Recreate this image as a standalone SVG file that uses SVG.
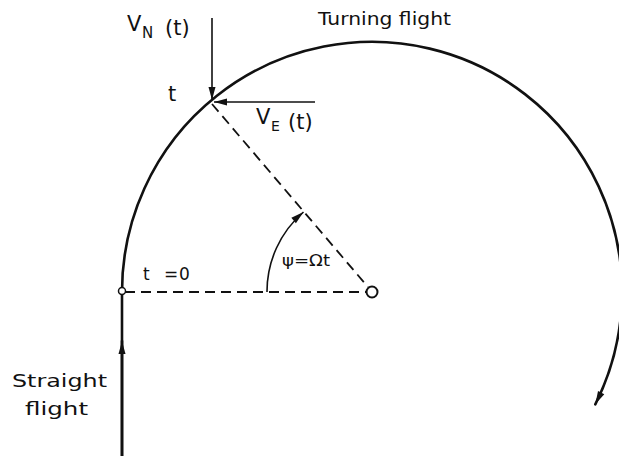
<svg xmlns="http://www.w3.org/2000/svg" width="619" height="456" viewBox="0 0 619 456">
<style>
.txt{font-family:"DejaVu Sans","Liberation Sans",sans-serif;fill:#111;}
.thick{fill:none;stroke:#111;stroke-width:2.6;stroke-linecap:round;}
.thin{fill:none;stroke:#111;stroke-width:1.6;}
.dash{fill:none;stroke:#111;stroke-width:1.8;stroke-dasharray:10 6;}
</style>
<defs>
<marker id="ah" markerWidth="14" markerHeight="8" viewBox="-14 -4 14 8" refX="0" refY="0" orient="auto" markerUnits="userSpaceOnUse">
<path d="M0,0 L-13,-3.5 L-13,3.5 Z" fill="#111"/>
</marker>
</defs>
<rect width="619" height="456" fill="#fff"/>
<g id="connectors">
<path class="thick" d="M122 456 L122 292"/>
<path class="thick" d="M122 456 L122 341" marker-end="url(#ah)"/>
<path class="thick" d="M122 292 A250 250 0 1 1 595.3 404.3" marker-end="url(#ah)"/>
<path class="dash" d="M125 292 L366 292"/>
<path class="dash" d="M212 104 L368 287"/>
<path class="thin" d="M212 18 L212 100" marker-end="url(#ah)"/>
<path class="thin" d="M315 102 L214 102" marker-end="url(#ah)"/>
<path class="thin" d="M267 292 A105 105 0 0 1 303.5 212" marker-end="url(#ah)"/>
</g>
<g id="start-point"><circle cx="122" cy="291" r="3.5" fill="#fff" stroke="#111" stroke-width="1.5"/></g>
<g id="centre"><circle cx="372" cy="292" r="5.5" fill="#fff" stroke="#111" stroke-width="2"/></g>
<g id="label-vn">
<text class="txt" font-size="21"><tspan x="127" y="31">V</tspan><tspan x="142" y="38" font-size="15">N</tspan><tspan x="165" y="35">(t)</tspan></text>
</g>
<g id="label-t"><text class="txt" x="168" y="101" font-size="21">t</text></g>
<g id="label-ve">
<text class="txt" font-size="21"><tspan x="256" y="124">V</tspan><tspan x="271" y="131" font-size="14">E</tspan><tspan x="288" y="129">(t)</tspan></text>
</g>
<g id="label-turning"><text class="txt" x="318" y="25" font-size="17" textLength="133" lengthAdjust="spacingAndGlyphs">Turning flight</text></g>
<g id="label-t0"><text class="txt" y="280" font-size="17"><tspan x="143">t</tspan><tspan x="164">=</tspan><tspan x="179">0</tspan></text></g>
<g id="label-psi"><text class="txt" x="282" y="266" font-size="15" textLength="48" lengthAdjust="spacingAndGlyphs">ψ=Ωt</text></g>
<g id="label-straight">
<text class="txt" x="12" y="387" font-size="18" textLength="95" lengthAdjust="spacingAndGlyphs">Straight</text>
<text class="txt" x="25" y="415" font-size="18" textLength="63" lengthAdjust="spacingAndGlyphs">flight</text>
</g>
</svg>
